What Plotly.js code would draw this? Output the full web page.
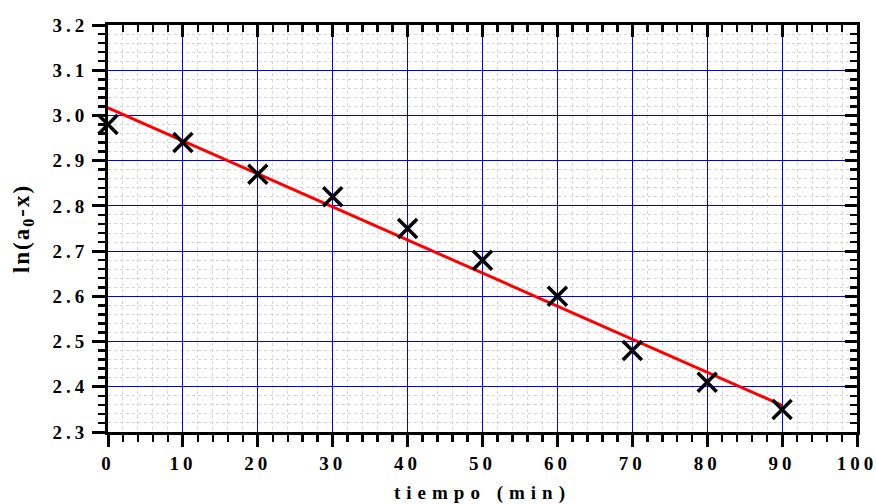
<!DOCTYPE html>
<html>
<head>
<meta charset="utf-8">
<script src="https://cdn.plot.ly/plotly-3.0.1.min.js"></script>
<style>
  html, body { margin: 0; padding: 0; background: #fff; }
  #chart { width: 876px; height: 504px; }
  .xtick text, .ytick text { letter-spacing: 4px; }
  .g-xtitle text { letter-spacing: 6px; }
  .g-ytitle text { letter-spacing: 2px; }
</style>
</head>
<body>
<div id="chart"></div>
<script>
// Data
const tiempo = [0, 10, 20, 30, 40, 50, 60, 70, 80, 90];
const lnA0x = [2.98, 2.94, 2.87, 2.82, 2.75, 2.68, 2.60, 2.48, 2.41, 2.35];
const fitX = [0, 90];
const fitY = [3.017, 2.359];

// minor tick positions (axis configuration, excluding majors)
const yMinor = [];
for (let k = 0; k <= 45; k++) { if (k % 5 !== 0) yMinor.push(+(2.3 + k * 0.02).toFixed(2)); }
const xMinor = [];
for (let k = 0; k <= 50; k++) { if (k % 5 !== 0) xMinor.push(k * 2); }

const tickFont = { family: 'Liberation Serif', size: 19, color: '#000', weight: 700 };
const xTitleFont = { family: 'Liberation Serif', size: 19, color: '#000', weight: 700 };
const yTitleFont = { family: 'Liberation Serif', size: 23, color: '#000', weight: 700 };

const traces = [
  {
    x: fitX, y: fitY, type: 'scatter', mode: 'lines',
    line: { color: '#ff0000', width: 3 },
    hoverinfo: 'skip', showlegend: false
  },
  {
    x: tiempo, y: lnA0x, type: 'scatter', mode: 'markers',
    marker: { symbol: 'x-thin-open', size: 19, color: '#000', line: { color: '#000', width: 3.5 } },
    showlegend: false, cliponaxis: false
  },
  {
    x: [null], y: [null], xaxis: 'x2', yaxis: 'y2', type: 'scatter', mode: 'markers',
    showlegend: false, hoverinfo: 'skip'
  }
];

const minorGrid = { showgrid: true, gridcolor: '#d4d4d4', gridwidth: 1, griddash: 'dot' };

const layout = {
  width: 876, height: 504,
  margin: { l: 108, r: 19, t: 25, b: 72 },
  paper_bgcolor: '#ffffff', plot_bgcolor: '#ffffff',
  showlegend: false,
  font: { family: 'Liberation Serif', size: 18, color: '#000' },
  xaxis: {
    range: [0, 100], tickmode: 'linear', tick0: 0, dtick: 10,
    ticks: 'outside', ticklen: 12, tickwidth: 3, tickcolor: '#000',
    showline: true, linecolor: '#000', linewidth: 3,
    showgrid: true, gridcolor: '#0000ff', gridwidth: 1,
    zeroline: false, tickfont: tickFont, ticklabeloverflow: 'allow',
    minor: Object.assign({ tickmode: 'array', tickvals: xMinor, ticks: 'outside', ticklen: 7, tickwidth: 2.5, tickcolor: '#000' }, minorGrid),
    title: { text: 'tiempo (min)', font: xTitleFont, standoff: 22 },
    layer: 'below traces'
  },
  yaxis: {
    range: [2.3, 3.2], tickmode: 'linear', tick0: 2.3, dtick: 0.1, tickformat: '.1f',
    ticks: 'outside', ticklen: 13, tickwidth: 3, tickcolor: '#000',
    showline: true, linecolor: '#000', linewidth: 3,
    showgrid: true, gridcolor: '#0000ff', gridwidth: 1,
    zeroline: false, tickfont: tickFont, ticklabeloverflow: 'allow',
    minor: Object.assign({ tickmode: 'array', tickvals: yMinor, ticks: 'outside', ticklen: 7, tickwidth: 2.5, tickcolor: '#000' }, minorGrid),
    title: { text: 'ln(a<sub>0</sub>-x)', font: yTitleFont, standoff: 17 },
    layer: 'below traces'
  },
  xaxis2: {
    range: [0, 100], overlaying: 'x', side: 'top', anchor: 'y2',
    tickmode: 'linear', tick0: 0, dtick: 10, showticklabels: false,
    ticks: 'inside', ticklen: 12, tickwidth: 3, tickcolor: '#000',
    showline: true, linecolor: '#000', linewidth: 3,
    showgrid: false, zeroline: false,
    minor: { tickmode: 'array', tickvals: xMinor, ticks: 'inside', ticklen: 7, tickwidth: 2.5, tickcolor: '#000', showgrid: false }
  },
  yaxis2: {
    range: [2.3, 3.2], overlaying: 'y', side: 'right', anchor: 'x2',
    tickmode: 'linear', tick0: 2.3, dtick: 0.1, showticklabels: false,
    ticks: 'inside', ticklen: 12, tickwidth: 3, tickcolor: '#000',
    showline: true, linecolor: '#000', linewidth: 3,
    showgrid: false, zeroline: false,
    minor: { tickmode: 'array', tickvals: yMinor, ticks: 'inside', ticklen: 7, tickwidth: 2.5, tickcolor: '#000', showgrid: false }
  }
};

Plotly.newPlot('chart', traces, layout, { displayModeBar: false, staticPlot: true });
</script>
</body>
</html>
